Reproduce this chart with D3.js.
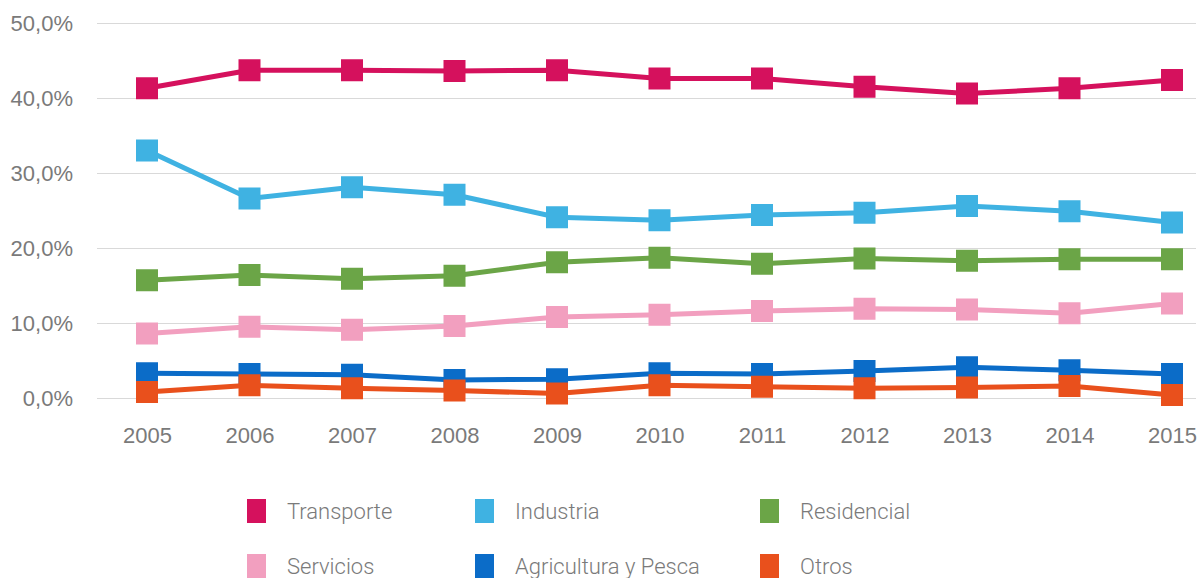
<!DOCTYPE html>
<html>
<head>
<meta charset="utf-8">
<script src="https://cdn.jsdelivr.net/npm/d3@7"></script>
<style>
  html, body { margin: 0; padding: 0; background: #fff; }
  svg { display: block; font-family: Roboto, "Liberation Sans", sans-serif; }
</style>
</head>
<body>
<svg id="chart" width="1199" height="578"></svg>
<script>
// Years on the horizontal axis
const years = ["2005","2006","2007","2008","2009","2010","2011","2012","2013","2014","2015"];

// Share of final energy consumption by sector (%)
const transporte  = [41.3, 43.7, 43.7, 43.6, 43.7, 42.6, 42.6, 41.5, 40.6, 41.3, 42.4];
const industria   = [33.0, 26.6, 28.1, 27.1, 24.1, 23.7, 24.4, 24.7, 25.6, 24.9, 23.4];
const residencial = [15.7, 16.4, 15.9, 16.3, 18.1, 18.7, 17.9, 18.6, 18.3, 18.5, 18.5];
const servicios   = [8.6, 9.5, 9.1, 9.6, 10.8, 11.1, 11.6, 11.9, 11.8, 11.3, 12.6];
const agricultura = [3.3, 3.2, 3.1, 2.4, 2.5, 3.3, 3.2, 3.6, 4.1, 3.7, 3.2];
const otros       = [0.8, 1.7, 1.3, 1.0, 0.6, 1.7, 1.5, 1.3, 1.4, 1.6, 0.4];

const seriesNames = ["Transporte","Industria","Residencial","Servicios","Agricultura y Pesca","Otros"];
const seriesValues = [transporte, industria, residencial, servicios, agricultura, otros];
const seriesColors = ["#d5115d","#3fb2e2","#6ba547","#f29fbf","#0b6cc8","#e9501c"];

const yTicks = [0, 10, 20, 30, 40, 50];

const textColor = "#7a7a7a";
const fontSize = 22;

const svg = d3.select("#chart");

const x = d3.scalePoint().domain(years).range([147, 1172]);
const y = d3.scaleLinear().domain([0, 50]).range([398, 23]);

// Horizontal gridlines and percent labels
const yAxis = d3.axisLeft(y)
  .tickValues(yTicks)
  .tickSize(-(1196 - 97))
  .tickPadding(24)
  .tickFormat(d => d.toFixed(1).replace(".", ",") + "%");

const gy = svg.append("g").attr("transform", "translate(97,0)").call(yAxis);
gy.select(".domain").remove();
gy.selectAll(".tick line").attr("stroke", "#d9d9d9").attr("stroke-width", 1);
gy.selectAll(".tick text")
  .attr("fill", textColor)
  .attr("font-size", fontSize)
  .attr("font-weight", 300)
  .attr("dy", "0.35em");

// Year labels
const xAxis = d3.axisBottom(x).tickSize(0).tickPadding(0);
const gx = svg.append("g").attr("transform", "translate(0,427)").call(xAxis);
gx.select(".domain").remove();
gx.selectAll(".tick text")
  .attr("fill", textColor)
  .attr("font-size", fontSize)
  .attr("font-weight", 300)
  .attr("dy", "0.72em");

// Lines with square markers
const line = d3.line().x((d, i) => x(years[i])).y(d => y(d));
const sq = 22;

seriesValues.forEach((vals, k) => {
  const g = svg.append("g");
  g.append("path")
    .attr("d", line(vals))
    .attr("fill", "none")
    .attr("stroke", seriesColors[k])
    .attr("stroke-width", 5)
    .attr("stroke-linejoin", "round");
  g.selectAll("rect")
    .data(vals)
    .join("rect")
    .attr("x", (d, i) => x(years[i]) - sq / 2)
    .attr("y", d => y(d) - sq / 2)
    .attr("width", sq)
    .attr("height", sq)
    .attr("fill", seriesColors[k]);
});

// Legend: three columns, two rows
const legendCols = [247, 475, 760];
const legendRows = [511, 566];
const legend = svg.append("g");
seriesNames.forEach((name, k) => {
  const cx = legendCols[k % 3];
  const cy = legendRows[Math.floor(k / 3)];
  legend.append("rect")
    .attr("x", cx)
    .attr("y", cy - 12)
    .attr("width", 19)
    .attr("height", 24)
    .attr("fill", seriesColors[k]);
  legend.append("text")
    .attr("x", cx + 40)
    .attr("y", cy)
    .attr("dy", "0.35em")
    .attr("fill", textColor)
    .attr("font-size", fontSize)
    .attr("font-weight", 300)
    .text(name);
});
</script>
</body>
</html>
